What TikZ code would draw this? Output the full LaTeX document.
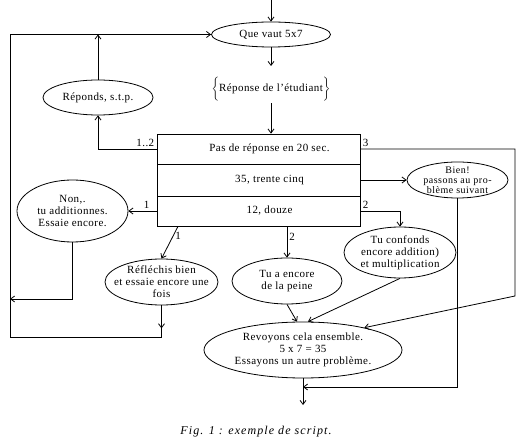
\documentclass[tikz,border=0pt]{standalone}
\usepackage{fontspec}
\setmainfont{Liberation Serif}
\usetikzlibrary{shapes.geometric,arrows.meta}

\tikzset{
  bulle/.style={ellipse, draw, align=center, inner xsep=-30pt, inner ysep=-12pt},
  case/.style={rectangle, draw, minimum width=203pt, inner sep=0pt,
    execute at begin node={\hspace*{22pt}}},
  fleche/.style={-{Straight Barb[length=4pt,width=6pt]}},
  num/.style={inner sep=2pt}
}

\begin{document}
\begin{tikzpicture}[x=1pt, y=-1pt, line width=0.8pt,
    font=\fontsize{11}{12}\selectfont\addfontfeature{LetterSpace=4}]
  \useasboundingbox (0,0) rectangle (522,443);

  % Question
  \coordinate (entree) at (271,0);
  \node[bulle, minimum width=119pt, minimum height=25pt] (que) at (271,34.5) {Que vaut 5x7};
  \node[inner sep=2pt] (etud) at (271,89) {$\bigg\{$Réponse de l'étudiant$\bigg\}$};
  \coordinate (etudhaut) at (271,66);

  % Cases de réponse
  \node[case, minimum height=30pt] (pas) at (258.5,149) {Pas de réponse en 20 sec.};
  \node[case, minimum height=32pt] (trente) at (258.5,180) {35, trente cinq};
  \node[case, minimum height=30pt] (douze) at (258.5,211) {12, douze};

  % Messages
  \node[bulle, minimum width=110pt, minimum height=35pt] (repondre) at (98,97.5) {Réponds, s.t.p.};
  \node[bulle, minimum width=111pt, minimum height=62pt] (non) at (72.5,211) {Non,.\\tu additionnes.\\Essaie encore.};
  \node[bulle, minimum width=113pt, minimum height=46pt] (reflechis) at (161.5,282) {Réfléchis bien\\et essaie encore une\\fois};
  \node[bulle, minimum width=110pt, minimum height=46pt] (peine) at (287,281) {Tu a encore\\de la peine};
  \node[bulle, minimum width=112pt, minimum height=51pt] (confonds) at (400,252.5) {Tu confonds\\encore addition)\\et multiplication};
  \node[bulle, minimum width=101pt, minimum height=36pt,
    font=\fontsize{10}{10}\selectfont\addfontfeature{LetterSpace=5}] (bien) at (457.5,180) {Bien!\\passons au pro-\\blème suivant};
  \node[bulle, minimum width=198pt, minimum height=56pt] (revoyons) at (303,350) {Revoyons cela ensemble.\\5 x 7 = 35\\Essayons un autre problème.};

  % Points de passage
  \coordinate (bas) at (10,337);
  \coordinate (gauche) at (10,299);
  \coordinate (droite) at (515,296);
  \coordinate (jonction) at (303,387);
  \coordinate (sortie) at (303,405);

  % Question -> réponse
  \draw[fleche] (entree) -- (que);
  \draw[fleche] (que) -- (etudhaut);
  \draw[fleche] (etud.south) -- (etud.south |- pas.north);

  % Pas de réponse
  \draw[fleche] (pas.west) node[num, above left] (l12) {1..2} -| (repondre.south);
  \draw[fleche] (repondre) -- (repondre |- que);
  \draw[fleche] (pas.east) node[num, above right] (l3) {3} -| (droite) -- (revoyons.20);

  % 35
  \draw[fleche] (trente) -- (bien);
  \draw[fleche] (bien.south) |- (jonction);

  % 12
  \draw[fleche] (douze.west) -- (non) node[num, pos=0.35, above] (l1a) {1};
  \draw[fleche] (non.south) |- (gauche);
  \draw[fleche] ([xshift=-80.5pt]douze.south) -- (reflechis.north) node[num, pos=0.3, right] (l1b) {1};
  \draw[fleche] (peine |- douze.south) -- (peine) node[num, pos=0.35, right] (l2a) {2};
  \draw[fleche] (douze.east) node[num, above right] (l2b) {2} -| (confonds.north);

  % Retours
  \draw[fleche] (reflechis.south) -- ++(0,23);
  \draw[fleche] (reflechis.south) |- (bas) |- (que.west);
  \draw[fleche] (peine.south) -- ([xshift=-6pt]revoyons.north);
  \draw[fleche] (confonds.south) -- ([xshift=5pt]revoyons.north);
  \draw[fleche] (revoyons) -- (sortie);

  % Légende
  \node[font=\fontsize{12}{14}\selectfont\itshape\addfontfeature{LetterSpace=9}] (legende) at (256,432) {Fig. 1 : exemple de script.};
\end{tikzpicture}
\end{document}
